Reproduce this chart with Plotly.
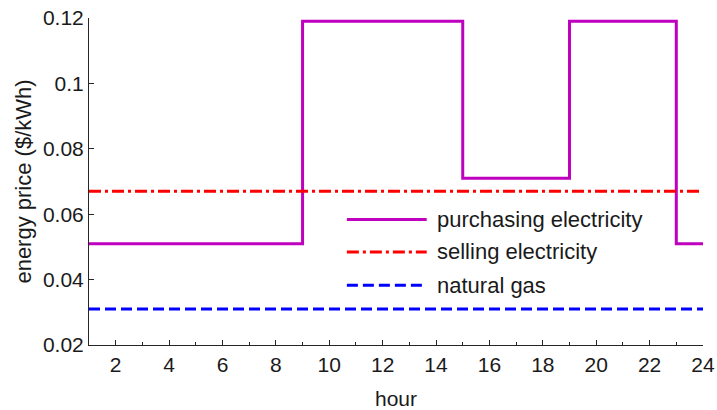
import plotly.graph_objects as go

# Hourly tariffs over one day (hours 1..24), $/kWh
hours = list(range(1, 25))
purchase_price = [0.051] * 8 + [0.119] * 6 + [0.071] * 4 + [0.119] * 4 + [0.051] * 2
selling_price = [0.067] * 24
gas_price = [0.031] * 24

series_names = ["purchasing electricity", "selling electricity", "natural gas"]
series_colors = ["#BF00BF", "#FF0000", "#0000FF"]
series_dash = ["solid", "12px,4px,3px,4px", "11px,5px"]

y_ticks = [0.02, 0.04, 0.06, 0.08, 0.1, 0.12]
y_ticktext = ["0.02", "0.04", "0.06", "0.08", "0.1", "0.12"]
x_ticks = list(range(2, 25, 2))

FONT = "Liberation Sans, Arial, sans-serif"
TXT = "#1a1a1a"
AX = "#262626"

fig = go.Figure()
for name, yv, col, dash in zip(series_names, [purchase_price, selling_price, gas_price],
                               series_colors, series_dash):
    fig.add_trace(go.Scatter(
        x=hours, y=yv, mode="lines", name=name,
        line=dict(color=col, width=3, dash=dash, shape="hv"),
        showlegend=False,
    ))

# Legend drawn by hand so the line samples are long
leg_y = [0.384, 0.2845, 0.183]
for name, col, dash, yy in zip(series_names, series_colors, series_dash, leg_y):
    fig.add_shape(type="line", xref="paper", yref="paper",
                  x0=0.420, x1=0.550, y0=yy, y1=yy,
                  line=dict(color=col, width=3, dash=dash))
    fig.add_annotation(xref="paper", yref="paper", x=0.5635, y=yy,
                       text=name, showarrow=False, xanchor="left", yanchor="middle",
                       font=dict(family=FONT, size=22, color=TXT))

fig.update_layout(
    width=717, height=410,
    margin=dict(l=89, r=14, t=18, b=65),
    plot_bgcolor="white", paper_bgcolor="white",
    font=dict(family=FONT, size=21, color=TXT),
    xaxis=dict(
        range=[1, 24], tickvals=x_ticks, ticks="inside", ticklen=5,
        tickcolor=AX, showline=True, linecolor=AX, linewidth=1,
        showgrid=False, zeroline=False, automargin=False,
        minor=dict(dtick=1, tick0=0, ticks="inside", ticklen=3, tickcolor=AX),
        ticklabelstandoff=1,
        title=dict(text="hour", standoff=20, font=dict(size=21)),
        tickfont=dict(size=21),
    ),
    yaxis=dict(
        range=[0.02, 0.12], tickvals=y_ticks, ticktext=y_ticktext,
        ticks="inside", ticklen=5, tickcolor=AX,
        showline=True, linecolor=AX, linewidth=1,
        showgrid=False, zeroline=False, automargin=False,
        title=dict(text="energy price ($/kWh)", standoff=5, font=dict(size=22)),
        tickfont=dict(size=21),
    ),
)

fig.write_html("out.html")
